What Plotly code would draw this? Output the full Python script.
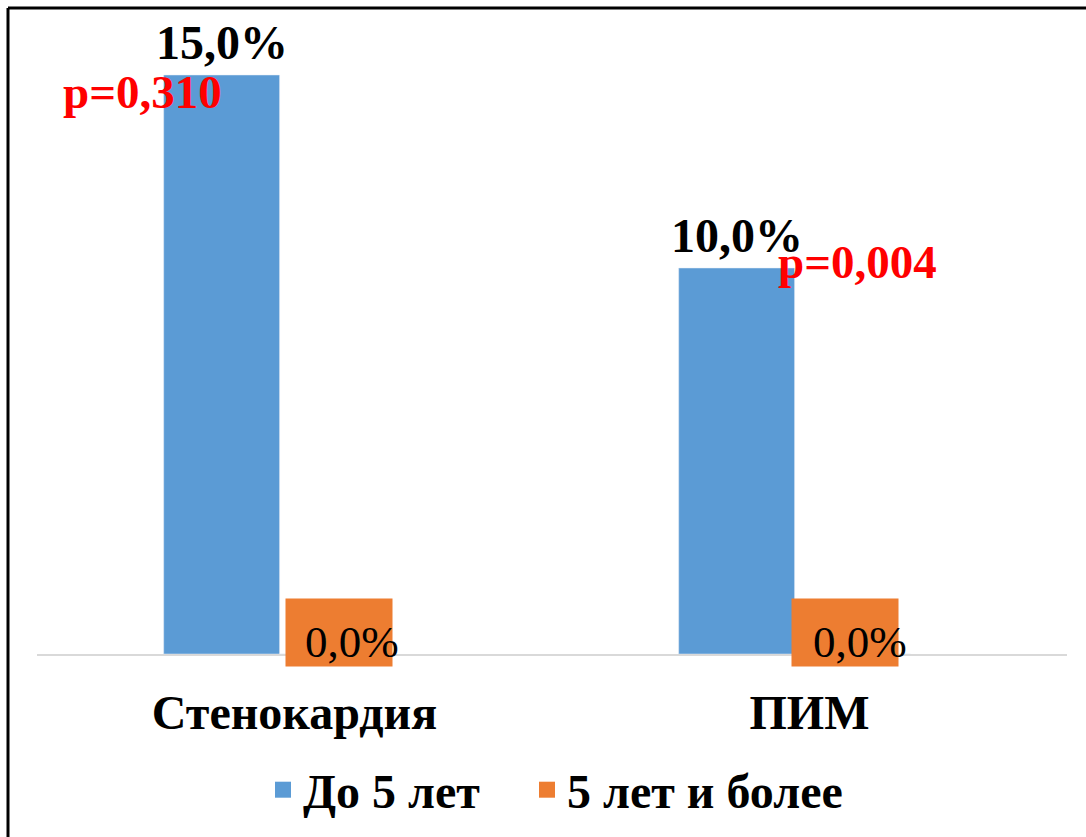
import plotly.graph_objects as go

# Data
categories = ["Стенокардия", "ПИМ"]
under_5_years = [15.0, 10.0]
five_plus_years = [0.0, 0.0]
p_values = ["0,310", "0,004"]
series_names = ["До 5 лет", "5 лет и более"]

BLUE = "#5B9BD5"
ORANGE = "#ED7D31"
FONT = "Liberation Serif"
W, H = 1086, 837


def pct(v):
    return f"{v:.1f}%".replace(".", ",")


fig = go.Figure()

# Blue bars (left of each category centre); orange series has zero height
fig.add_trace(go.Bar(
    x=categories, y=under_5_years, name=series_names[0],
    marker_color=BLUE, width=0.225, offset=-0.254, showlegend=False,
))
fig.add_trace(go.Bar(
    x=categories, y=five_plus_years, name=series_names[1],
    marker_color=ORANGE, width=0.225, offset=-0.029, showlegend=False,
))

# Legend proxies with larger square swatches, one legend box per series
legend_ids = ["legend", "legend2"]
for name, color, lid in zip(series_names, [BLUE, ORANGE], legend_ids):
    fig.add_trace(go.Scatter(
        x=[None], y=[None], mode="markers", name=name,
        marker=dict(symbol="square", size=18, color=color),
        showlegend=True, legend=lid,
    ))

annotations = []
bar_centre_shift = -73
zero_box_shift = [44, 35]
zero_text_shift = [57, 50]
p_pos = [(142, 92), (857, 262)]

for i, cat in enumerate(categories):
    # value above blue bar
    annotations.append(dict(
        x=cat, y=under_5_years[i], xref="x", yref="y",
        text=pct(under_5_years[i]), showarrow=False,
        xshift=bar_centre_shift, yshift=4, yanchor="bottom",
        font=dict(family=FONT, size=48, color="black", weight="bold"),
    ))
    # orange label box for the zero-height bar
    annotations.append(dict(
        x=cat, y=five_plus_years[i], xref="x", yref="y",
        text=" ", showarrow=False, width=106, height=67, borderpad=0,
        bgcolor=ORANGE, xshift=zero_box_shift[i], yshift=22, yanchor="middle",
        font=dict(family=FONT, size=10),
    ))
    annotations.append(dict(
        x=cat, y=five_plus_years[i], xref="x", yref="y",
        text=pct(five_plus_years[i]), showarrow=False,
        xshift=zero_text_shift[i], yshift=12, yanchor="middle",
        font=dict(family=FONT, size=45, color="black"),
    ))
    # p-value
    px, py = p_pos[i]
    annotations.append(dict(
        x=px / W, y=1 - py / H, xref="paper", yref="paper",
        text="p=" + p_values[i], showarrow=False,
        xanchor="center", yanchor="middle",
        font=dict(family=FONT, size=47, color="#FF0000", weight="bold"),
    ))

# Outer frame (top and left edges)
shapes = [
    dict(type="line", xref="paper", yref="paper",
         x0=8 / W, x1=1.0, y0=1 - 8 / H, y1=1 - 8 / H,
         line=dict(color="black", width=3)),
    dict(type="line", xref="paper", yref="paper",
         x0=8 / W, x1=8 / W, y0=1 - 8 / H, y1=0,
         line=dict(color="black", width=3)),
]

legend_style = dict(
    orientation="h", y=1 - 790 / H,
    xanchor="left", yanchor="middle",
    font=dict(family=FONT, size=48, color="black", weight="bold"),
    bgcolor="rgba(0,0,0,0)",
)

fig.update_layout(
    width=W, height=H,
    margin=dict(l=0, r=0, t=0, b=0),
    paper_bgcolor="white", plot_bgcolor="white",
    barmode="group",
    showlegend=True,
    legend=dict(x=263 / W, **legend_style),
    legend2=dict(x=527 / W, **legend_style),
    xaxis=dict(
        domain=[37 / W, 1067 / W], range=[-0.5, 1.5],
        showline=True, linecolor="#D9D9D9", linewidth=2,
        showgrid=False, zeroline=False, ticks="",
        tickfont=dict(family=FONT, size=48, color="black", weight="bold"),
        ticklabelstandoff=15,
    ),
    yaxis=dict(
        domain=[1 - 654 / H, 1 - 36.4 / H], range=[0, 16],
        visible=False,
    ),
    annotations=annotations,
    shapes=shapes,
)

fig.write_html("out.html")
